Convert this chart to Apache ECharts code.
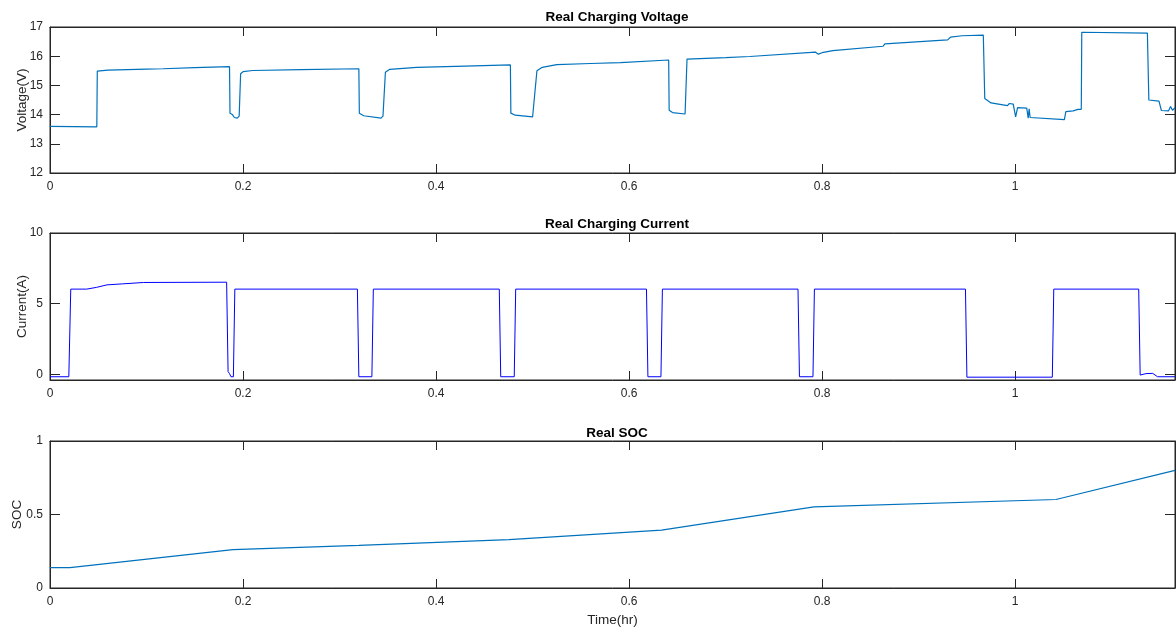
<!DOCTYPE html>
<html>
<head>
<meta charset="utf-8">
<script src="https://cdn.jsdelivr.net/npm/echarts@6/dist/echarts.min.js"></script>
<style>
  html, body { margin: 0; padding: 0; background: #ffffff; }
  #chart { width: 1176px; height: 628px; }
</style>
</head>
<body>
<div id="chart"></div>
<script>
// Battery charging log: terminal voltage, charging current and state of charge over time (hours)

const voltageTime = [0, 0.0485, 0.049, 0.06, 0.1, 0.117, 0.118, 0.15, 0.186, 0.1865, 0.189, 0.191, 0.194, 0.196, 0.1975, 0.2, 0.21, 0.26, 0.32,
  0.3205, 0.325, 0.343, 0.345, 0.3475, 0.352, 0.38, 0.43, 0.477, 0.4775, 0.482, 0.5, 0.502, 0.5045, 0.51, 0.525, 0.56, 0.591, 0.593,
  0.641, 0.6415, 0.645, 0.658, 0.6595, 0.66, 0.7, 0.725, 0.727, 0.793, 0.796, 0.8, 0.811, 0.863, 0.865, 0.93, 0.933, 0.945, 0.967,
  0.9685, 0.975, 0.992, 0.994, 0.998, 1.0005, 1.0025, 1.012, 1.0135, 1.0145, 1.0155, 1.017, 1.051, 1.0525, 1.06, 1.065, 1.067, 1.0685,
  1.069, 1.137, 1.1385, 1.149, 1.1515, 1.159, 1.161, 1.163, 1.1656];
const voltageValue = [13.6, 13.58, 15.49, 15.52, 15.56, 15.57, 15.6, 15.61, 15.64, 14.05, 14.0, 13.9, 13.88, 13.95, 15.4, 15.47, 15.51, 15.54, 15.57,
  14.05, 13.96, 13.88, 13.95, 15.45, 15.55, 15.62, 15.66, 15.7, 14.05, 13.98, 13.92, 13.98, 15.5, 15.62, 15.71, 15.75, 15.78, 15.83,
  15.87, 14.15, 14.07, 14.02, 14.05, 15.9, 15.95, 15.99, 16.05, 16.14, 16.07, 16.12, 16.19, 16.34, 16.42, 16.56, 16.65, 16.7, 16.72,
  14.55, 14.4, 14.31, 14.38, 14.36, 13.92, 14.24, 14.22, 13.88, 14.2, 13.9, 13.93, 13.83, 14.1, 14.13, 14.18, 14.13, 14.18,
  16.82, 16.79, 14.5, 14.46, 14.14, 14.13, 14.28, 14.15, 14.24];

const currentTime = [0, 0.0195, 0.0215, 0.038, 0.048, 0.059, 0.075, 0.097, 0.183, 0.1845, 0.186, 0.1875, 0.19, 0.1915,
  0.3185, 0.32, 0.3335, 0.335, 0.4655, 0.467, 0.481, 0.4825, 0.618, 0.6195, 0.633, 0.6345, 0.775, 0.7765, 0.7905, 0.792,
  0.9485, 0.95, 1.0385, 1.04, 1.128, 1.1295, 1.1355, 1.1425, 1.144, 1.1475, 1.1656];
const currentValue = [-0.17, -0.17, 6.03, 6.03, 6.15, 6.33, 6.4, 6.5, 6.52, 0.2, 0.05, -0.17, -0.17, 6.03,
  6.03, -0.17, -0.17, 6.03, 6.03, -0.17, -0.17, 6.03, 6.03, -0.17, -0.17, 6.03, 6.03, -0.17, -0.17, 6.03,
  6.03, -0.2, -0.2, 6.03, 6.03, -0.05, 0.05, 0.07, 0.0, -0.17, -0.17];

const socTime = [0, 0.0207, 0.1895, 0.32, 0.4755, 0.6336, 0.7915, 1.0423, 1.1656];
const socValue = [0.138, 0.138, 0.261, 0.29, 0.329, 0.394, 0.552, 0.602, 0.8];

const timeMax = 1.1656;
const timeStep = 0.2;

const zip = (xs, ys) => xs.map((x, i) => [x, ys[i]]);

const INK = '#262626';
const FONT = "'Liberation Sans', Arial, sans-serif";

const grids = [
  { left: 50, right: 1, top: 27, height: 146 },
  { left: 50, right: 1, top: 233, height: 147 },
  { left: 50, right: 1, top: 441, height: 147 }
].map(g => Object.assign(g, {
  show: true, borderColor: INK, borderWidth: 1, backgroundColor: 'transparent',
  containLabel: false, outerBoundsMode: 'none'
}));

function timeLabel(v) {
  const k = v / timeStep;
  if (Math.abs(k - Math.round(k)) > 1e-6) return '';
  return String(+v.toFixed(1));
}

function xAxisPair(gi, withName) {
  const common = {
    type: 'value', gridIndex: gi, min: 0, max: timeMax, interval: timeStep,
    splitLine: { show: false },
    axisLine: { show: true, onZero: false, lineStyle: { color: INK, width: 1 } },
    axisTick: { show: true, inside: true, length: 9, lineStyle: { color: INK, width: 1 } }
  };
  const bottom = Object.assign({}, common, {
    position: 'bottom',
    axisLabel: { show: true, color: INK, fontFamily: FONT, fontSize: 12, margin: 8, formatter: timeLabel, showMaxLabel: false }
  });
  if (withName) {
    Object.assign(bottom, {
      name: 'Time(hr)', nameLocation: 'middle', nameGap: 25,
      nameTextStyle: { color: INK, fontFamily: FONT, fontSize: 13.5 }
    });
  }
  const top = Object.assign({}, common, { position: 'top', axisLabel: { show: false } });
  return [bottom, top];
}

function yAxisPair(gi, opts) {
  const common = {
    type: 'value', gridIndex: gi, min: opts.min, max: opts.max,
    splitLine: { show: false },
    axisLine: { show: true, onZero: false, lineStyle: { color: INK, width: 1 } },
    axisTick: { show: true, inside: true, length: 10, lineStyle: { color: INK, width: 1 } }
  };
  if (opts.interval) common.interval = opts.interval;
  if (opts.ticks) common.axisTick.customValues = opts.ticks;
  const left = Object.assign({}, common, {
    position: 'left',
    name: opts.name, nameLocation: 'middle', nameGap: opts.nameGap, nameRotate: 90,
    nameMoveOverlap: false,
    nameTextStyle: { color: INK, fontFamily: FONT, fontSize: 13.5 },
    axisLabel: { show: true, color: INK, fontFamily: FONT, fontSize: 12, margin: 7 }
  });
  if (opts.ticks) left.axisLabel.customValues = opts.ticks;
  const right = Object.assign({}, common, {
    position: 'right',
    axisTick: Object.assign({}, common.axisTick),
    axisLabel: { show: false }
  });
  return [left, right];
}

const titleStyle = { color: '#000000', fontFamily: FONT, fontSize: 13.5, fontWeight: 'bold' };

const option = {
  animation: false,
  backgroundColor: '#ffffff',
  title: [
    { text: 'Real Charging Voltage', left: 612, top: 5, textAlign: 'center', textStyle: titleStyle },
    { text: 'Real Charging Current', left: 612, top: 212, textAlign: 'center', textStyle: titleStyle },
    { text: 'Real SOC', left: 612, top: 421, textAlign: 'center', textStyle: titleStyle }
  ],
  grid: grids,
  xAxis: [].concat(xAxisPair(0, false), xAxisPair(1, false), xAxisPair(2, true)),
  yAxis: [].concat(
    yAxisPair(0, { min: 12, max: 17, interval: 1, name: 'Voltage(V)', nameGap: 21 }),
    yAxisPair(1, { min: -0.4, max: 10, ticks: [0, 5, 10], name: 'Current(A)', nameGap: 21 }),
    yAxisPair(2, { min: 0, max: 1, interval: 0.5, name: 'SOC', nameGap: 26 })
  ),
  series: [
    {
      name: 'Voltage', type: 'line', xAxisIndex: 0, yAxisIndex: 0,
      data: zip(voltageTime, voltageValue), symbol: 'none',
      lineStyle: { color: '#0072BD', width: 1.2 }
    },
    {
      name: 'Current', type: 'line', xAxisIndex: 2, yAxisIndex: 2,
      data: zip(currentTime, currentValue), symbol: 'none',
      lineStyle: { color: '#0000FF', width: 1 }
    },
    {
      name: 'SOC', type: 'line', xAxisIndex: 4, yAxisIndex: 4,
      data: zip(socTime, socValue), symbol: 'none',
      lineStyle: { color: '#0072BD', width: 1.2 }
    }
  ]
};

const chart = echarts.init(document.getElementById('chart'), null, { renderer: 'canvas' });
chart.setOption(option);
</script>
</body>
</html>
